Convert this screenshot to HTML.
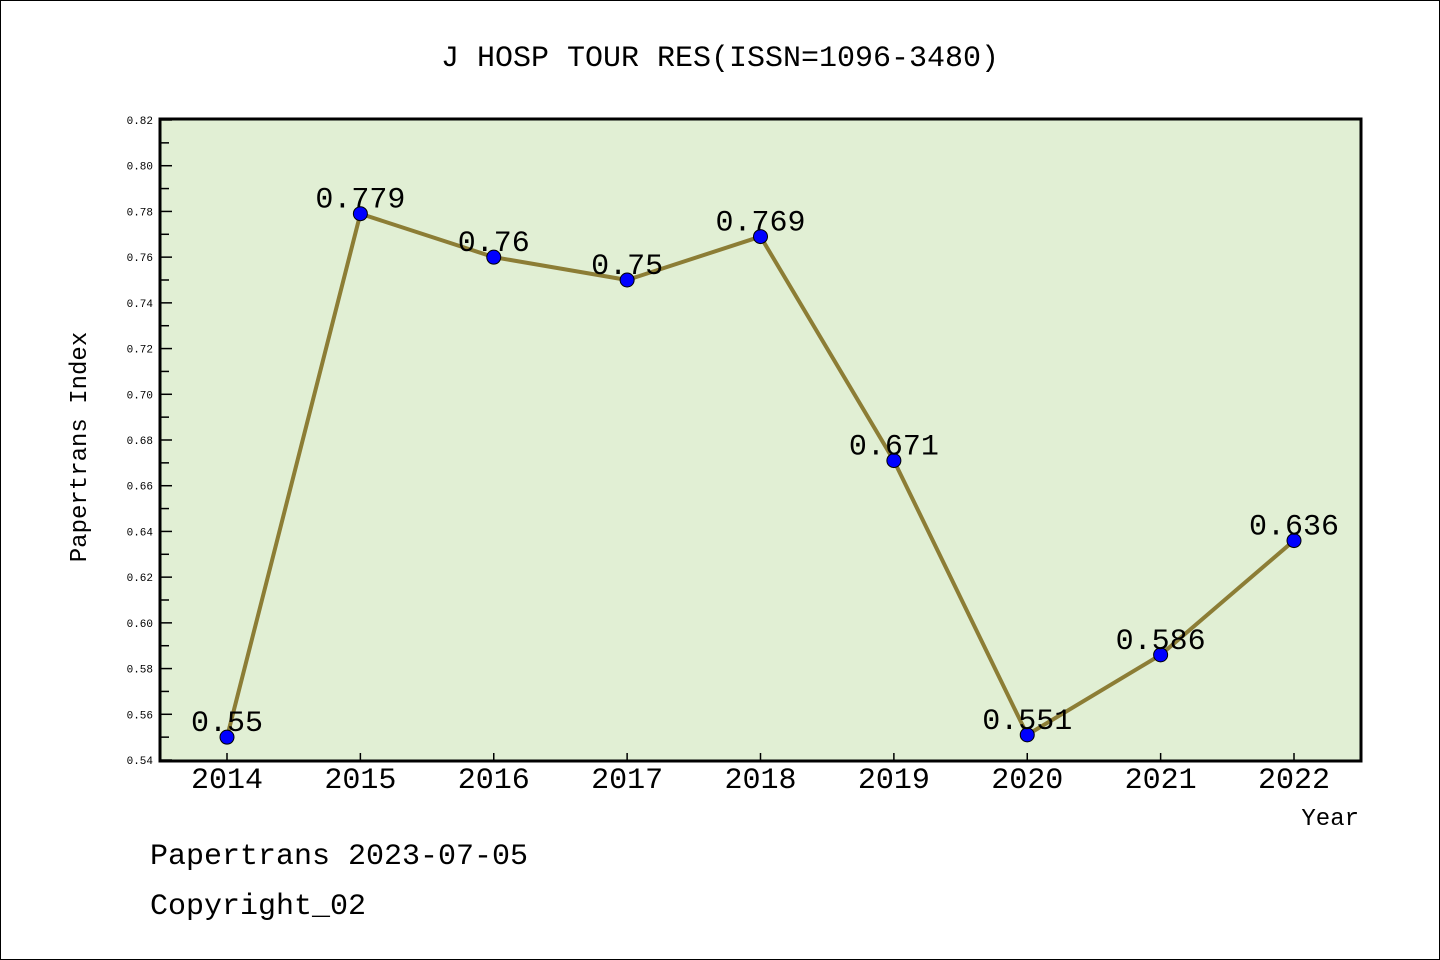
<!DOCTYPE html>
<html><head><meta charset="utf-8">
<style>
html,body{margin:0;padding:0;background:#fff;}
svg{display:block;}
text{font-family:"WenQuanYi Zen Hei","Liberation Mono",monospace;}
</style></head>
<body>
<svg id="chart" width="1440" height="960" xmlns="http://www.w3.org/2000/svg">
<rect x="0.5" y="0.5" width="1439" height="959" fill="#fff" stroke="#000"/>
<text x="720" y="66" text-anchor="middle" font-size="30">J HOSP TOUR RES(ISSN=1096-3480)</text>
<rect x="160" y="119" width="1201" height="642" fill="#e1efd4"/>
<g id="axes"></g>
<g id="series"></g>
<rect x="160" y="119" width="1201" height="642" fill="none" stroke="#000" stroke-width="3"/>
<text x="86" y="447" text-anchor="middle" font-size="24" transform="rotate(-90 86 447)">Papertrans Index</text>
<text x="1359" y="825" text-anchor="end" font-size="24">Year</text>
<text x="150" y="864" font-size="30">Papertrans 2023-07-05</text>
<text x="150" y="914" font-size="30">Copyright_02</text>
</svg>
<script>
const categories = ["2014","2015","2016","2017","2018","2019","2020","2021","2022"];
const values = [0.55, 0.779, 0.76, 0.75, 0.769, 0.671, 0.551, 0.586, 0.636];
const valueLabels = ["0.55","0.779","0.76","0.75","0.769","0.671","0.551","0.586","0.636"];
const yTicks = [0.54,0.56,0.58,0.60,0.62,0.64,0.66,0.68,0.70,0.72,0.74,0.76,0.78,0.80,0.82];

const NS="http://www.w3.org/2000/svg";
const yMin=0.54,yMax=0.82,plotTop=120,plotBottom=760;
const y=v=>plotBottom-(v-yMin)/(yMax-yMin)*(plotBottom-plotTop);
const x=i=>227+i*(1294-227)/(categories.length-1);
function mk(tag,attrs,parent){const e=document.createElementNS(NS,tag);for(const k in attrs)e.setAttribute(k,attrs[k]);parent.appendChild(e);return e;}
const axes=document.getElementById('axes'), series=document.getElementById('series');

yTicks.forEach((t,i)=>{
  const ln=mk('line',{x1:160,x2:172,y1:y(t),y2:y(t),stroke:'#000','stroke-width':1.5},axes);
  
  
  const tx=mk('text',{x:153,y:y(t)+4,'text-anchor':'end','font-size':11,'font-family':'Liberation Sans, sans-serif'},axes);
  tx.textContent=t.toFixed(2);
  
  
  if(i<yTicks.length-1){
    const m=(t+yTicks[i+1])/2;
    const mn=mk('line',{x1:160,x2:169,y1:y(m),y2:y(m),stroke:'#000','stroke-width':1.5},axes);
    
    
  }
});
categories.forEach((c,i)=>{
  const ln=mk('line',{x1:x(i),x2:x(i),y1:760,y2:753,stroke:'#000','stroke-width':1.5},axes);
  
  
  const tx=mk('text',{x:x(i),y:788,'text-anchor':'middle','font-size':30},axes);
  tx.textContent=c;
  
  
});
const pts=values.map((v,i)=>x(i)+','+y(v)).join(' ');
const pl=mk('polyline',{points:pts,fill:'none',stroke:'#8c7d35','stroke-width':4,'stroke-linejoin':'round'},series);


values.forEach((v,i)=>{
  const c=mk('circle',{cx:x(i),cy:y(v),r:7,fill:'#0000ff',stroke:'#000','stroke-width':1},series);
  
  
  const t=mk('text',{x:x(i),y:y(v)-6,'text-anchor':'middle','font-size':30},series);
  t.textContent=valueLabels[i];
  
  
});
</script>
</body></html>
